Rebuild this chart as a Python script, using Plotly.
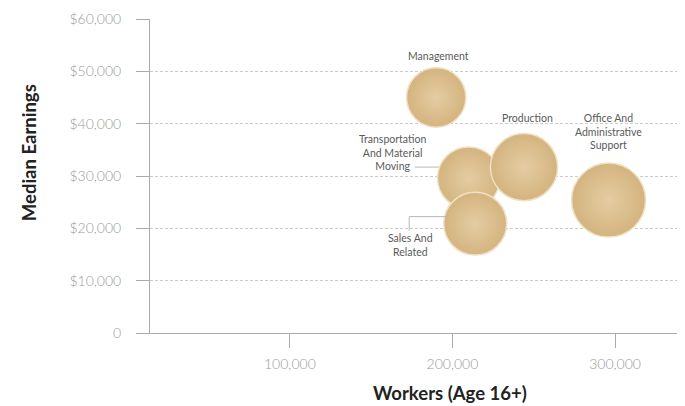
import plotly.graph_objects as go

# occupation data
occupations = ["Management", "Transportation<br>And Material<br>Moving", "Sales And<br>Related",
               "Production", "Office And<br>Administrative<br>Support"]
workers = [190000, 210000, 214000, 244000, 296000]
earnings = [45000, 29600, 20900, 31700, 25400]

# label offsets from bubble centre (pixels)
label_dx = [2, -76, -65, 3, 0]
label_dy = [42, 26, -21, 49, 69]

y_ticks = [0, 10000, 20000, 30000, 40000, 50000, 60000]
y_labels = ["0", "$10,000", "$20,000", "$30,000", "$40,000", "$50,000", "$60,000"]
x_ticks = [100000, 200000, 300000]
x_labels = ["100,000", "200,000", "300,000"]

max_d = 74
fig = go.Figure(go.Scatter(
    x=workers, y=earnings, mode="markers",
    marker=dict(size=workers, sizemode="area", sizeref=2 * max(workers) / max_d ** 2,
                color="#D4B47F", gradient=dict(type="radial", color="#E4CCA2"),
                line=dict(color="#F0E0C4", width=1.5), opacity=1),
    hoverinfo="skip",
))

for name, x, y, dx, dy in zip(occupations, workers, earnings, label_dx, label_dy):
    fig.add_annotation(x=x, y=y, text=name, showarrow=False, xshift=dx, yshift=dy,
                       font=dict(family="Lato", size=10.5, color="#5A5A5A"), align="center")

# leader lines
line_style = dict(color="#B8B8B8", width=1)
tx, ty = workers[1], earnings[1]
fig.add_shape(type="line", xref="x", yref="y", xsizemode="pixel", ysizemode="pixel",
              xanchor=tx, yanchor=ty, x0=-54, x1=-30, y0=11, y1=11, line=line_style)
sx, sy = workers[2], earnings[2]
fig.add_shape(type="path", xref="x", yref="y", xsizemode="pixel", ysizemode="pixel",
              xanchor=sx, yanchor=sy, path="M -66 -7 L -66 7 L -29 7", line=line_style)

fig.add_annotation(text="Median Earnings", xref="paper", yref="paper", x=-0.226, y=0.573,
                   xanchor="center", yanchor="middle", textangle=-90, showarrow=False,
                   font=dict(family="Lato", size=18.5, color="#222222", weight="bold"))
fig.add_annotation(text="Workers (Age 16+)", xref="paper", yref="paper", x=0.561, y=-0.191,
                   xanchor="center", yanchor="middle", showarrow=False,
                   font=dict(family="Lato", size=18.5, color="#222222", weight="bold"))

fig.update_xaxes(range=[14000, 343000], tickvals=x_ticks, ticktext=x_labels,
                 showgrid=False, zeroline=False, showline=True, linecolor="#AAAAAA",
                 ticks="outside", ticklen=14, tickcolor="#AAAAAA", ticklabelstandoff=4,
                 tickfont=dict(family="Lato", size=14, color="#9A9A9A", weight=300))
fig.update_yaxes(range=[0, 60000], tickvals=y_ticks, ticktext=y_labels,
                 showgrid=True, gridcolor="#CCCCCC", griddash="3px,2px", zeroline=False,
                 showline=True, linecolor="#AAAAAA", ticks="outside", ticklen=13,
                 tickcolor="#AAAAAA", ticklabelstandoff=12,
                 tickfont=dict(family="Lato", size=14, color="#9A9A9A", weight=300))

# page body adds an 8px margin, so the figure is sized to fit the window
fig.update_layout(width=677, height=398, margin=dict(l=142, r=0, t=11, b=73),
                  plot_bgcolor="white", paper_bgcolor="white", showlegend=False)

fig.write_html("out.html")
